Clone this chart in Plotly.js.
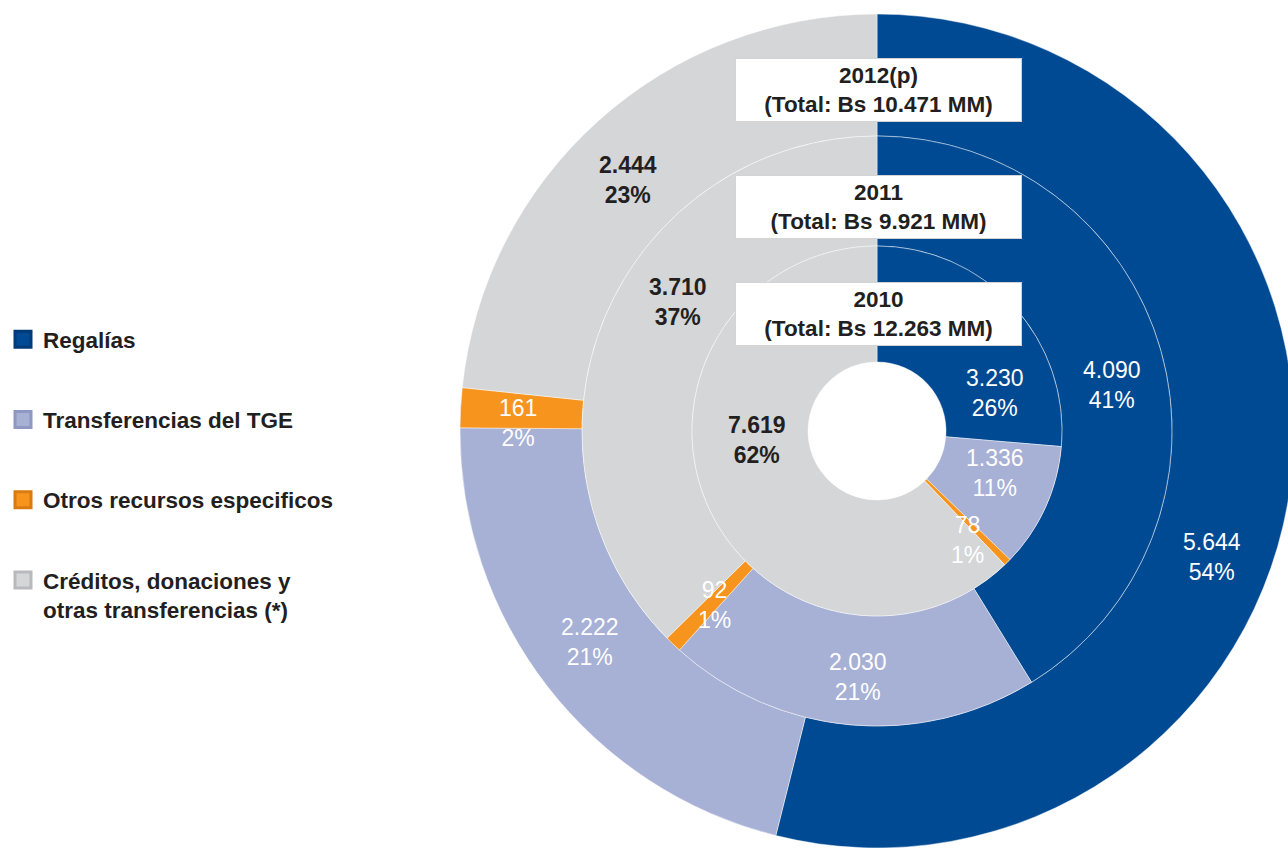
<!DOCTYPE html>
<html>
<head>
<meta charset="utf-8">
<script src="https://cdn.plot.ly/plotly-3.0.1.min.js"></script>
<style>
html, body { margin: 0; padding: 0; overflow: hidden; background: #ffffff; }
#chart { width: 1296px; height: 848px; }
</style>
</head>
<body>
<div id="chart"></div>
<script>
// ---- Data ----
const categories = ['Regalías', 'Transferencias del TGE', 'Otros recursos especificos', 'Créditos, donaciones y<br>otras transferencias (*)'];
const years = ['2012(p)', '2011', '2010'];
const totals = ['10.471', '9.921', '12.263'];
const values2012 = [5644, 2222, 161, 2444];
const values2011 = [4090, 2030, 92, 3710];
const values2010 = [3230, 1336, 78, 7619];
const pct2012 = [54, 21, 2, 23];
const pct2011 = [41, 21, 1, 37];
const pct2010 = [26, 11, 1, 62];

// ---- Styles / layout helpers ----
const colors = ['#004A93', '#A7B0D5', '#F7941D', '#D5D6D8'];
const edgeColors = ['#003A78', '#8E98C2', '#D97B0E', '#B8B9BC'];
const textColors = ['#ffffff', '#ffffff', '#ffffff', '#231F20'];
const W = 1296, H = 848;
const px = x => x / W;
const py = y => 1 - y / H;
const FONT = '"Liberation Sans", Arial, sans-serif';

// ring geometry (pixel centre and radii)
const cx = 877, cy = 431;
const rings = [
  { vals: values2012, pct: pct2012, R: 417, r: 295 },
  { vals: values2011, pct: pct2011, R: 295, r: 185 },
  { vals: values2010, pct: pct2010, R: 185, r: 69 }
];

// label anchor positions (pixels) for each ring / category
const labelPos = [
  [[1212, 557], [590, 642], [518, 423], [628, 180]],
  [[1112, 385], [858, 677], [714, 605], [678, 302]],
  [[995, 393], [995, 473], [967, 540], [757, 440]]
];
// title box centres (pixels)
const boxPos = [[878.5, 89.5], [878.5, 207.5], [878.5, 314.5]];

function fmt(v) { return String(v).replace(/\B(?=(\d{3})+(?!\d))/g, '.'); }

const traces = [];
rings.forEach((ring) => {
  traces.push({
    type: 'pie',
    labels: categories,
    values: ring.vals,
    sort: false,
    direction: 'clockwise',
    rotation: 0,
    hole: ring.r / ring.R,
    textinfo: 'none',
    hoverinfo: 'skip',
    showlegend: false,
    marker: { colors: colors, line: { color: 'rgba(255,255,255,0.45)', width: 1 } },
    domain: {
      x: [px(cx - ring.R), px(cx + ring.R)],
      y: [py(cy + ring.R), py(cy - ring.R)]
    }
  });
});

// legend entries
categories.forEach((c, i) => {
  traces.push({
    type: 'scatter', mode: 'markers',
    x: [null], y: [null],
    name: c,
    legendgroup: 'g' + i,
    showlegend: true,
    hoverinfo: 'skip',
    marker: { symbol: 'square', size: 16, color: colors[i], line: { color: edgeColors[i], width: 3 } }
  });
});

const annotations = [];
rings.forEach((ring, ri) => {
  ring.vals.forEach((v, ci) => {
    annotations.push({
      xref: 'paper', yref: 'paper',
      x: px(labelPos[ri][ci][0]), y: py(labelPos[ri][ci][1]),
      xanchor: 'center', yanchor: 'middle',
      text: fmt(v) + '<br>' + ring.pct[ci] + '%',
      showarrow: false,
      align: 'center',
      font: { family: FONT, size: 23, color: textColors[ci], weight: ci === 3 ? 'bold' : 'normal' }
    });
  });
});
years.forEach((yr, i) => {
  annotations.push({
    xref: 'paper', yref: 'paper',
    x: px(boxPos[i][0]), y: py(boxPos[i][1]),
    xanchor: 'center', yanchor: 'middle',
    text: yr + '<br>(Total: Bs ' + totals[i] + ' MM)',
    showarrow: false,
    align: 'center',
    width: 285, height: 62,
    bgcolor: '#ffffff',
    bordercolor: '#d4d4d4', borderwidth: 1, borderpad: 0,
    font: { family: FONT, size: 22.5, color: '#231F20', weight: 'bold' }
  });
});

const layout = {
  width: W, height: H,
  margin: { l: 0, r: 0, t: 0, b: 0 },
  paper_bgcolor: '#ffffff',
  plot_bgcolor: 'rgba(0,0,0,0)',
  xaxis: { visible: false },
  yaxis: { visible: false },
  showlegend: true,
  legend: {
    x: px(3), xanchor: 'left',
    y: py(318), yanchor: 'top',
    traceorder: 'grouped',
    tracegroupgap: 48,
    valign: 'top',
    bgcolor: 'rgba(0,0,0,0)',
    font: { family: FONT, size: 22.5, color: '#231F20', weight: 'bold' }
  },
  annotations: annotations
};

Plotly.newPlot('chart', traces, layout, { displayModeBar: false, staticPlot: true });
</script>
</body>
</html>
